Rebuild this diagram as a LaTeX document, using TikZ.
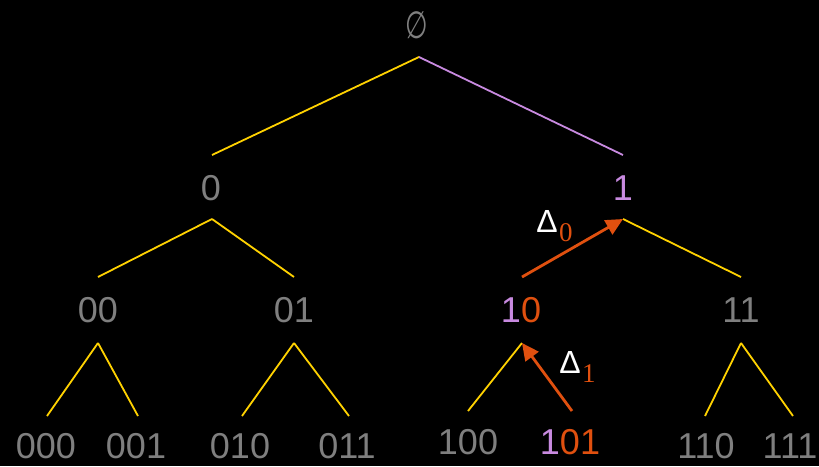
\documentclass[tikz,border=0pt]{standalone}
\usepackage{fontspec}
\setmainfont{Liberation Sans}
\newfontfamily\serifdigits{Liberation Serif}
\newfontfamily\symfont{DejaVu Sans}
\usetikzlibrary{arrows.meta}
\definecolor{lblgray}{HTML}{7F7F7F}
\definecolor{edgeyellow}{HTML}{FFD200}
\definecolor{edgepurple}{HTML}{C88AE0}
\definecolor{hlorange}{HTML}{E0500F}
\begin{document}
\begin{tikzpicture}[x=1pt,y=-1pt,
  lbl/.style={inner sep=0pt,anchor=center,text=lblgray,font=\fontsize{36}{36}\selectfont},
  dlbl/.style={inner sep=0pt,anchor=center,text=white,font=\fontsize{32}{32}\selectfont},
  yedge/.style={draw=edgeyellow,line width=1.8pt},
  pedge/.style={draw=edgepurple,line width=1.8pt},
  oarrow/.style={draw=hlorange,line width=2.8pt,-{Triangle[length=17pt,width=16pt]}},
  sub/.style={text=hlorange,font=\serifdigits\fontsize{27}{27}\selectfont}]
\fill[black] (0,0) rectangle (819,466);
\useasboundingbox (0,0) rectangle (819,466);
% labels
\node[lbl] (root) at (417,25) {\symfont\scalebox{0.72}[1.05]{∅}};
\node[lbl] (n0) at (211,188) {0};
\node[lbl] (n1) at (623,188) {\textcolor{edgepurple}{1}};
\node[lbl] (n00) at (98,310) {00};
\node[lbl] (n01) at (294,310) {01};
\node[lbl] (n10) at (521,310) {\textcolor{edgepurple}{1}\textcolor{hlorange}{0}};
\node[lbl] (n11) at (741,310) {11};
\node[lbl] (n000) at (46,446) {000};
\node[lbl] (n001) at (136,446) {001};
\node[lbl] (n010) at (240,446) {010};
\node[lbl] (n011) at (347,446) {011};
\node[lbl] (n100) at (468,442) {100};
\node[lbl] (n101) at (570,442) {\textcolor{edgepurple}{1}\textcolor{hlorange}{01}};
\node[lbl] (n110) at (706,446) {110};
\node[lbl] (n111) at (790,446) {111};
% edge end points
\coordinate (r) at (419,57);
\coordinate (a0t) at (212,155);
\coordinate (a1t) at (623,155);
\coordinate (a0b) at (212,219);
\coordinate (a1b) at (623,219);
\coordinate (b00t) at (98,277);
\coordinate (b01t) at (294,277);
\coordinate (b10t) at (522,277);
\coordinate (b11t) at (741,277);
\coordinate (b00b) at (98,343);
\coordinate (b01b) at (294,343);
\coordinate (b10b) at (522,343);
\coordinate (b11b) at (741,343);
\coordinate (c000) at (47,416);
\coordinate (c001) at (138,416);
\coordinate (c010) at (242,416);
\coordinate (c011) at (349,416);
\coordinate (c100) at (468,411);
\coordinate (c101) at (572,411);
\coordinate (c110) at (705,416);
\coordinate (c111) at (793,416);
% edges
\draw[yedge] (r) -- (a0t);
\draw[pedge] (r) -- (a1t);
\draw[yedge] (a0b) -- (b00t);
\draw[yedge] (a0b) -- (b01t);
\draw[yedge] (a1b) -- (b11t);
\draw[yedge] (b00b) -- (c000);
\draw[yedge] (b00b) -- (c001);
\draw[yedge] (b01b) -- (c010);
\draw[yedge] (b01b) -- (c011);
\draw[yedge] (b10b) -- (c100);
\draw[yedge] (b11b) -- (c110);
\draw[yedge] (b11b) -- (c111);
% highlighted path
\draw[oarrow] (b10t) -- (a1b);
\draw[oarrow] (c101) -- (b10b);
\node[dlbl] (d0) at (547,221) {Δ};
\node[sub,anchor=base west,inner sep=0pt] (s0) at ([xshift=1pt,yshift=-9pt]d0.base east) {0};
\node[dlbl] (d1) at (570,362) {Δ};
\node[sub,anchor=base west,inner sep=0pt] (s1) at ([xshift=1pt,yshift=-9pt]d1.base east) {1};
\end{tikzpicture}
\end{document}
